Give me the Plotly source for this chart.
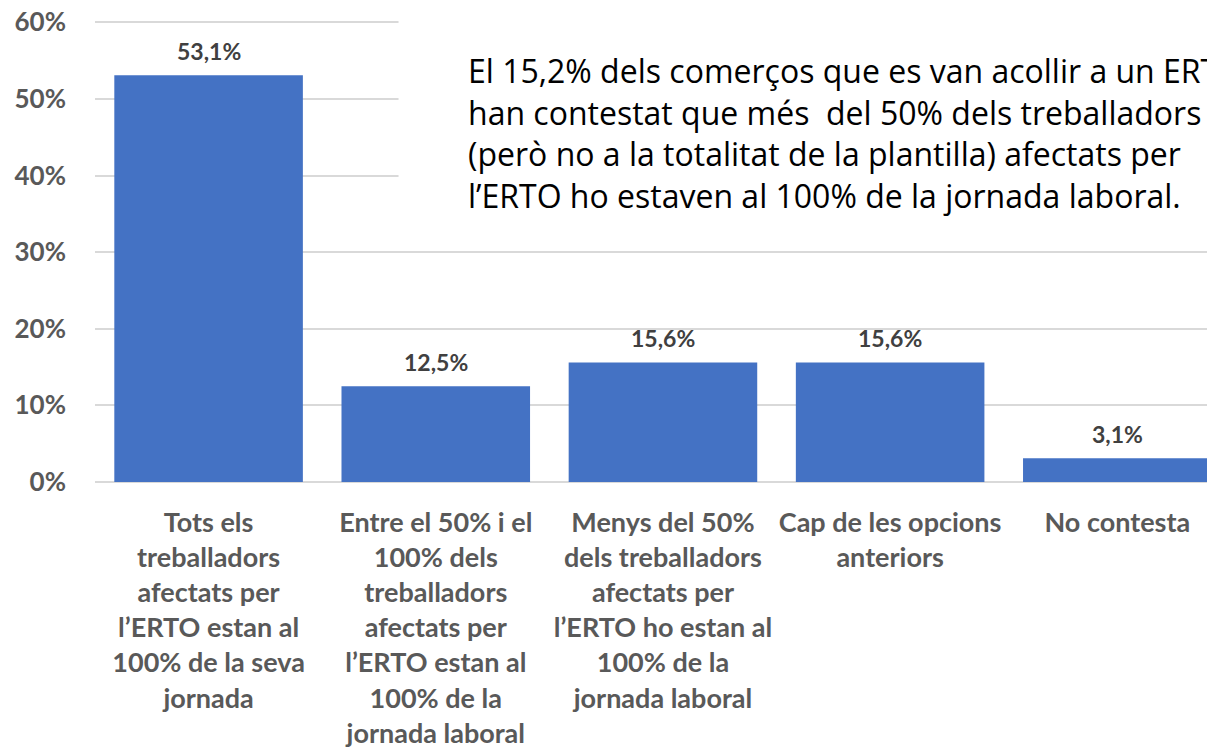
import plotly.graph_objects as go

# ── Data ──────────────────────────────────────────
categories = [
    "Tots els<br>treballadors<br>afectats per<br>l’ERTO estan al<br>100% de la seva<br>jornada",
    "Entre el 50% i el<br>100% dels<br>treballadors<br>afectats per<br>l’ERTO estan al<br>100% de la<br>jornada laboral",
    "Menys del 50%<br>dels treballadors<br>afectats per<br>l’ERTO ho estan al<br>100% de la<br>jornada laboral",
    "Cap de les opcions<br>anteriors",
    "No contesta",
]
values = [53.1, 12.5, 15.6, 15.6, 3.1]
y_ticks = [0, 10, 20, 30, 40, 50, 60]
y_ticklabels = [f"{v}%" for v in y_ticks]

note = ("El 15,2% dels comerços que es van acollir a un ERTO<br>"
        "han contestat que més \u00a0del 50% dels treballadors<br>"
        "(però no a la totalitat de la plantilla) afectats per<br>"
        "l’ERTO ho estaven al 100% de la jornada laboral.")

FONT = "Lato"
x_idx = list(range(len(categories)))

# ── Chart ─────────────────────────────────────────
fig = go.Figure(go.Bar(
    x=x_idx,
    y=values,
    marker_color="#4472C4",
    marker_line_width=0,
    hoverinfo="skip",
))

# data labels above the bars
for i, v in zip(x_idx, values):
    fig.add_annotation(
        x=i, y=v, text=f"<b>{v:.1f}%</b>".replace(".", ","),
        showarrow=False, yanchor="bottom", yshift=8,
        font=dict(family=FONT, size=23, color="#404040"),
    )

# white box behind the note (hides gridlines)
fig.add_shape(type="rect", xref="paper", yref="paper",
              x0=0.271, x1=1.0, y0=0.54, y1=1.1,
              fillcolor="white", line_width=0, layer="above")

fig.add_annotation(
    xref="paper", yref="paper", x=0.331, y=0.941,
    xanchor="left", yanchor="top", align="left",
    text=note, showarrow=False,
    font=dict(family="Open Sans", size=32, color="#000000"),
)

# page has an 8px body margin, so the figure is 8px smaller
fig.update_layout(
    width=1207, height=740,
    margin=dict(l=87, r=0, t=11.7, b=266),
    paper_bgcolor="white", plot_bgcolor="white",
    bargap=0.17, showlegend=False,
    font=dict(family=FONT),
)
fig.update_xaxes(
    range=[-0.5, 4.43], automargin=False,
    tickvals=x_idx, ticktext=[f"<b>{c}</b>" for c in categories],
    tickfont=dict(family=FONT, size=27, color="#595959"),
    showgrid=False, zeroline=False, showline=False,
    ticks="", ticklabelstandoff=22, ticklabeloverflow="allow",
)
fig.update_yaxes(
    range=[0, 60.3], automargin=False,
    tickvals=y_ticks, ticktext=[f"<b>{t}</b>" for t in y_ticklabels],
    tickfont=dict(family=FONT, size=26, color="#595959"),
    showgrid=True, gridcolor="#D9D9D9", gridwidth=1.5,
    zeroline=True, zerolinecolor="#D9D9D9", zerolinewidth=1.5,
    ticks="", ticklabelstandoff=28, ticklabeloverflow="allow",
)

fig.write_html("out.html")
